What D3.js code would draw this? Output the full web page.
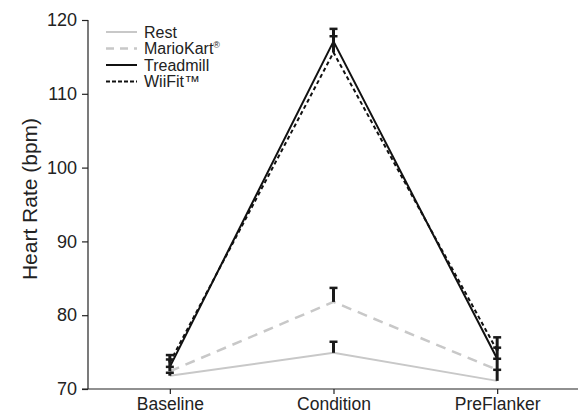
<!DOCTYPE html>
<html>
<head>
<meta charset="utf-8">
<script src="https://cdn.jsdelivr.net/npm/d3@7"></script>
<style>
  body { margin: 0; background: #fff; }
  text { font-family: "Liberation Sans", Arial, sans-serif; fill: #222; }
</style>
</head>
<body>
<svg width="579" height="413"></svg>
<script>
var phases = ["Baseline", "Condition", "PreFlanker"];
var seriesNames = ["Rest", "MarioKart", "Treadmill", "WiiFit"];
var rest = [71.8, 74.9, 71.1];
var restErr = [0.4, 1.5, 1.5];
var marioKart = [72.4, 81.8, 72.6];
var marioKartErr = [0.6, 1.9, 1.5];
var treadmill = [73.0, 117.1, 74.1];
var treadmillErr = [1.0, 1.7, 1.5];
var wiiFit = [73.6, 115.6, 75.2];
var wiiFitErr = [1.0, 2.2, 1.8];
var yTicks = [70, 80, 90, 100, 110, 120];

var series = [
    { name: "Rest", label: "Rest", values: rest, err: restErr, color: "#c8c8c8", width: 2, dash: null },
    { name: "MarioKart", label: "MarioKart", sup: "®", values: marioKart, err: marioKartErr, color: "#c8c8c8", width: 2.5, dash: "10,7" },
    { name: "Treadmill", label: "Treadmill", values: treadmill, err: treadmillErr, color: "#111", width: 2, dash: null },
    { name: "WiiFit", label: "WiiFit™", values: wiiFit, err: wiiFitErr, color: "#111", width: 2, dash: "4,3" }
];

var svg = d3.select("svg");

var x = d3.scalePoint().domain(phases).range([88, 579]).padding(0.5);
var y = d3.scaleLinear().domain([70, 120]).range([389, 20]);

// axes
var yAxis = svg.append("g")
    .attr("transform", "translate(88,0)")
    .call(d3.axisLeft(y).tickValues(yTicks).tickSize(6).tickPadding(5));
yAxis.select(".domain").attr("d", "M0," + y(120) + "V" + y(70));
yAxis.selectAll("text").style("font-size", "18px");
yAxis.selectAll("line, path").attr("stroke", "#222").attr("stroke-width", 1.2);

var xAxis = svg.append("g")
    .attr("transform", "translate(0,389)")
    .call(d3.axisBottom(x).tickSize(5).tickPadding(4));
xAxis.select(".domain").attr("d", "M82,0H578");
xAxis.selectAll("text").style("font-size", "17.5px");
xAxis.selectAll("line, path").attr("stroke", "#222").attr("stroke-width", 1.2);

svg.append("text")
    .attr("transform", "translate(37,199) rotate(-90)")
    .attr("text-anchor", "middle")
    .style("font-size", "21px")
    .text("Heart Rate (bpm)");

// lines
var line = d3.line()
    .x(function(d, i) { return x(phases[i]); })
    .y(function(d) { return y(d); });

series.forEach(function(s) {
    svg.append("path")
        .attr("d", line(s.values))
        .attr("fill", "none")
        .attr("stroke", s.color)
        .attr("stroke-width", s.width)
        .attr("stroke-dasharray", s.dash);
});

// error bars (upward)
series.forEach(function(s) {
    s.values.forEach(function(v, i) {
        var cx = x(phases[i]);
        svg.append("line")
            .attr("x1", cx).attr("x2", cx)
            .attr("y1", y(v)).attr("y2", y(v + s.err[i]))
            .attr("stroke", "#1a1a1a").attr("stroke-width", 3);
        svg.append("line")
            .attr("x1", cx - 4).attr("x2", cx + 4)
            .attr("y1", y(v + s.err[i])).attr("y2", y(v + s.err[i]))
            .attr("stroke", "#1a1a1a").attr("stroke-width", 2.5);
    });
});

// legend
var legend = svg.append("g").attr("transform", "translate(106,32)");
series.forEach(function(s, i) {
    var g = legend.append("g").attr("transform", "translate(0," + (i * 16.5) + ")");
    g.append("line")
        .attr("x1", 0).attr("x2", 31)
        .attr("stroke", s.color)
        .attr("stroke-width", s.width)
        .attr("stroke-dasharray", s.name === "MarioKart" ? "8,6" : s.name === "WiiFit" ? "4,2" : null);
    var t = g.append("text")
        .attr("x", 38).attr("y", 5.5)
        .style("font-size", "16px")
        .text(s.label);
    if (s.sup) {
        t.append("tspan").attr("dy", -6).style("font-size", "9px").text(s.sup);
    }
});
</script>
</body>
</html>
